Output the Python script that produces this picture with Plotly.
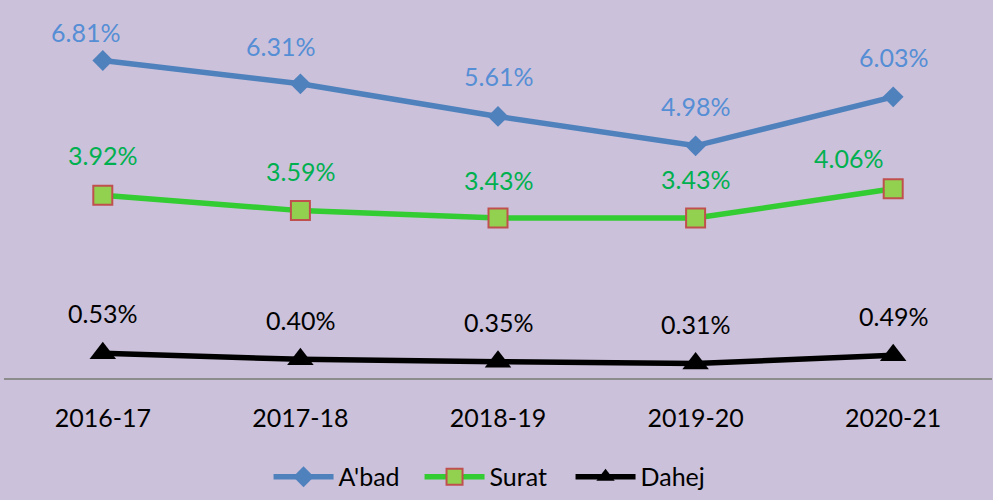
import plotly.graph_objects as go

years = ["2016-17", "2017-18", "2018-19", "2019-20", "2020-21"]
abad = [6.81, 6.31, 5.61, 4.98, 6.03]
surat = [3.92, 3.59, 3.43, 3.43, 4.06]
dahej = [0.53, 0.40, 0.35, 0.31, 0.49]

FONT = "Lato, 'Open Sans', sans-serif"
BG = "#CCC1DA"

series = [
    dict(name="A'bad", values=abad, line="#4F81BD", text="#558ED5",
         marker=dict(symbol="diamond", size=16, color="#4F81BD",
                     line=dict(width=0, color="#4F81BD")),
         xshift=[-17, -20, 0, 0, 0], yshift=[28, 38, 40, 40, 40]),
    dict(name="Surat", values=surat, line="#33CC33", text="#00B050",
         marker=dict(symbol="square", size=19, color="#92D050",
                     line=dict(width=2, color="#C0504D")),
         xshift=[0, 0, 0, 0, -45], yshift=[40, 40, 38, 39, 31]),
    dict(name="Dahej", values=dahej, line="#000000", text="#000000",
         marker=dict(symbol="triangle-up", size=23, color="#000000",
                     line=dict(width=0, color="#000000")),
         xshift=[0, 0, 0, 0, 0], yshift=[40, 39, 40, 40, 39]),
]

fig = go.Figure()
annotations = []
for s in series:
    fig.add_trace(go.Scatter(
        x=years, y=s["values"], name=s["name"], mode="lines+markers",
        line=dict(color=s["line"], width=5.5),
        marker=s["marker"],
        cliponaxis=False,
    ))
    for i, (xv, yv) in enumerate(zip(years, s["values"])):
        annotations.append(dict(
            x=xv, y=yv, xref="x", yref="y", text=f"{yv:.2f}%",
            showarrow=False, xanchor="center", yanchor="middle",
            xshift=s["xshift"][i], yshift=s["yshift"][i],
            font=dict(family=FONT, size=25, color=s["text"]),
        ))

fig.update_layout(
    width=993, height=500,
    margin=dict(l=4, r=1, t=5, b=121),
    paper_bgcolor=BG, plot_bgcolor=BG,
    font=dict(family=FONT, size=25, color="#000000"),
    showlegend=True,
    legend=dict(orientation="h", x=0.497, xanchor="center", y=-0.262,
                yanchor="middle", font=dict(family=FONT, size=25, color="#000000"),
                bgcolor="rgba(0,0,0,0)", itemwidth=60, entrywidth=76,
                entrywidthmode="pixels"),
    annotations=annotations,
    xaxis=dict(type="category", range=[-0.5, 4.5], showgrid=False,
               showline=True, linecolor="#8C8C8C", linewidth=2,
               ticks="", ticklabelstandoff=17, zeroline=False,
               tickfont=dict(family=FONT, size=25, color="#000000")),
    yaxis=dict(range=[0, 8], showgrid=False, showticklabels=False,
               zeroline=False, showline=False, ticks=""),
)

fig.write_html(
    "out.html",
    config={"displayModeBar": False},
    post_script="document.body.style.margin='0';document.body.style.padding='0';"
                "document.body.style.background='#CCC1DA';",
)
